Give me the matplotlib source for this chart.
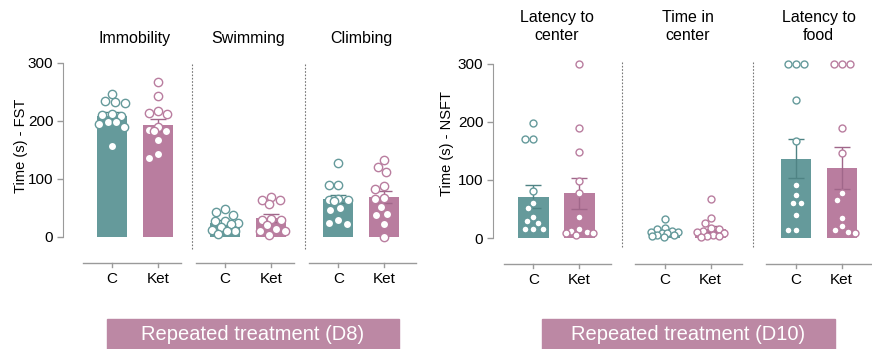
import numpy as np
import matplotlib.pyplot as plt
from matplotlib.patches import Rectangle

plt.rcParams['font.family'] = ['Liberation Sans', 'DejaVu Sans']

teal = '#659a9b'
pink = '#b97d9f'
teal_dark = '#4f8384'
pink_dark = '#a0678a'
grey = '#9a9a9a'

groups = ['C', 'Ket']

# forced swim test (D8)
fst_titles = ['Immobility', 'Swimming', 'Climbing']
fst_mean_c = [208, 25, 65]
fst_mean_ket = [193, 33, 69]
fst_sem_c = [7, 4, 7]
fst_sem_ket = [10, 7, 10]
fst_pts_c = [
    [247, 235, 232, 231, 212, 210, 209, 199, 199, 195, 190, 157],
    [48, 43, 38, 28, 27, 24, 22, 17, 12, 11, 10, 6],
    [128, 89, 89, 66, 64, 63, 62, 50, 47, 30, 25, 22],
]
fst_pts_ket = [
    [267, 243, 218, 213, 212, 190, 185, 183, 183, 167, 143, 137],
    [69, 63, 63, 57, 31, 29, 29, 21, 13, 10, 10, 3],
    [133, 121, 112, 88, 82, 67, 65, 52, 40, 38, 23, 0],
]

# novelty suppressed feeding test (D10)
nsft_titles = ['Latency to\ncenter', 'Time in\ncenter', 'Latency to\nfood']
nsft_mean_c = [71, 10, 137]
nsft_mean_ket = [77, 16, 121]
nsft_sem_c = [20, 3, 34]
nsft_sem_ket = [27, 5, 36]
nsft_pts_c = [
    [199, 170, 170, 81, 61, 51, 37, 29, 26, 15, 15, 15],
    [33, 18, 15, 12, 11, 10, 9, 8, 6, 5, 3, 2],
    [300, 300, 300, 238, 168, 92, 74, 61, 61, 39, 14, 14],
]
nsft_pts_ket = [
    [300, 190, 148, 98, 77, 36, 15, 12, 10, 8, 8, 6],
    [67, 35, 26, 17, 15, 12, 10, 8, 5, 3, 3, 2],
    [300, 300, 300, 189, 147, 77, 66, 35, 20, 13, 11, 9],
]

W, H = 872, 349
PX_X = 46.0            # pixels per x unit (C -> Ket distance)
PX_Y = 174.0 / 300.0   # pixels per second
LIM = 13.5             # max horizontal spread of the dots, pixels


def swarm(vals, d):
    # beeswarm kept inside the bar: offsets in pixels
    ys = np.asarray(vals, float) * PX_Y
    order = np.argsort(-ys)
    offs = np.zeros(len(ys))
    done = []
    grid = np.arange(-LIM, LIM + 0.01, 0.5)
    grid = grid[np.argsort(np.abs(grid), kind='stable')]
    for i in order:
        best, best_gap = 0.0, -1
        for c in grid:
            if done:
                gap = min(np.hypot(c - offs[j], ys[i] - ys[j]) for j in done)
            else:
                gap = 1e9
            if gap >= d:
                best = c
                break
            if gap > best_gap + 0.3:
                best, best_gap = c, gap
        offs[i] = best
        done.append(i)
    return offs / PX_X


def panel(fig, left_px, top_px, right_px, gap, titles, mc, mk, sc, sk, pc, pk,
          title_y, msize, sep_top, sep_bot):
    ax = fig.add_axes([left_px / W, 1 - (top_px + 174) / H,
                       (right_px - left_px) / W, 174 / H])
    c0 = left_px + (1.065 if gap < 2.6 else 0.88) * PX_X
    ax.set_xlim(-(c0 - left_px) / PX_X, (right_px - c0) / PX_X)
    ax.set_ylim(0, 300)
    for g in range(3):
        xc = g * gap
        xk = g * gap + 1
        for x, m, s, col, dark, pts in [(xc, mc[g], sc[g], teal, teal_dark, pc[g]),
                                       (xk, mk[g], sk[g], pink, pink_dark, pk[g])]:
            ax.bar(x, m, width=0.66, color=col, zorder=1)
            ax.errorbar(x, m, yerr=s, fmt='none', ecolor=dark, elinewidth=1,
                        capsize=6, capthick=1, zorder=2, clip_on=False)
            d = msize * 100 / 72 + 1.0
            ax.plot(x + swarm(pts, d), pts, 'o', ms=msize, mfc='white', mec=col,
                    mew=1, zorder=3, clip_on=False)
        ax.text(g * gap + 0.5, title_y, titles[g], ha='center', va='center',
                fontsize=11.5, linespacing=1.25)
        sep = (gap + 1) / 2
        if g < 2:
            ax.plot([g * gap + sep] * 2, [sep_bot, sep_top], ls=(0, (1.5, 1.5)),
                    color='#777777', lw=0.8, clip_on=False)
            x1 = g * gap + sep - 0.24
        else:
            x1 = ax.get_xlim()[1]
        ax.plot([g * gap - 0.64, x1], [-45, -45], color=grey, lw=1, clip_on=False)
        for x, lab in [(xc, groups[0]), (xk, groups[1])]:
            ax.plot([x, x], [-45, -52], color=grey, lw=1, clip_on=False)
            ax.text(x, -73, lab, ha='center', va='center', fontsize=11)
    for s in ['top', 'right', 'bottom']:
        ax.spines[s].set_visible(False)
    ax.spines['left'].set_bounds(0, 300)
    ax.spines['left'].set_color(grey)
    ax.set_yticks([0, 100, 200, 300])
    ax.tick_params(axis='y', colors=grey, labelcolor='black', labelsize=11,
                   length=4, width=1, pad=3)
    ax.set_xticks([])
    return ax


fig = plt.figure(figsize=(W / 100, H / 100), dpi=100)

panel(fig, 63, 63, 416, 2.46, fst_titles, fst_mean_c, fst_mean_ket,
      fst_sem_c, fst_sem_ket, fst_pts_c, fst_pts_ket, 343, 6.0, 300, -21)
panel(fig, 493, 64, 872, 2.85, nsft_titles, nsft_mean_c, nsft_mean_ket,
      nsft_sem_c, nsft_sem_ket, nsft_pts_c, nsft_pts_ket, 364, 5.0, 305, -16)

fig.text(21 / W, 1 - 146 / H, 'Time (s) - FST', rotation=90, ha='center',
         va='center', fontsize=10.5)
fig.text(447 / W, 1 - 143 / H, 'Time (s) - NSFT', rotation=90, ha='center',
         va='center', fontsize=10.5)

for x0, x1, label in [(107, 399, 'Repeated treatment (D8)'),
                      (542, 835, 'Repeated treatment (D10)')]:
    fig.patches.append(Rectangle((x0 / W, 0), (x1 - x0) / W, 30 / H,
                                 transform=fig.transFigure, color='#bc88a4',
                                 zorder=0))
    fig.text((x0 + x1) / 2 / W, 1 - 334 / H, label, ha='center', va='center',
             color='white', fontsize=14.5)

fig.savefig('out.png', dpi=100)
